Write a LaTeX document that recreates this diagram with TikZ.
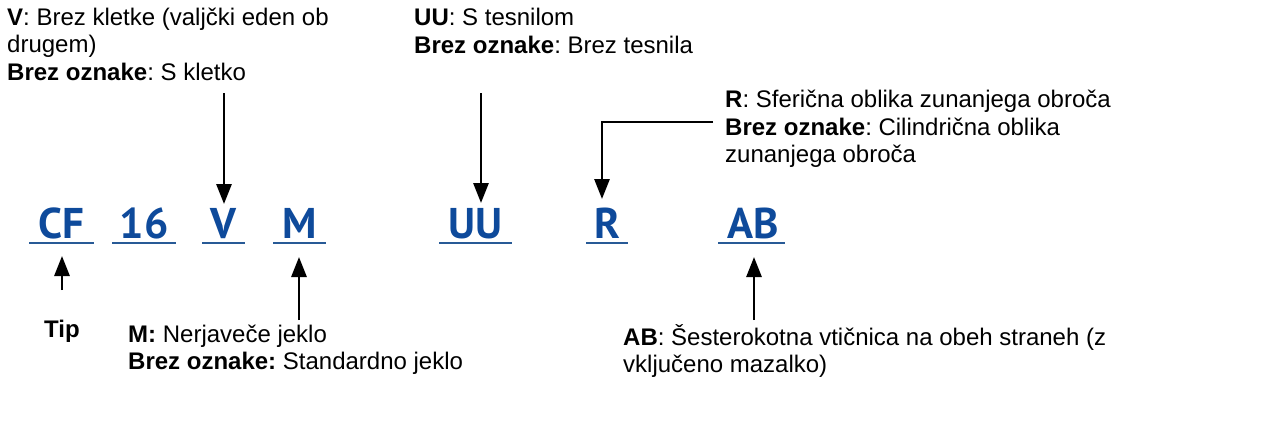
\documentclass[tikz,border=0pt]{standalone}
\usepackage{fontspec}
\setmainfont{Liberation Sans}
\newfontfamily\codefont{PT Sans}
\usetikzlibrary{arrows.meta}
\definecolor{codeblue}{RGB}{14,74,155}
\definecolor{lineblue}{RGB}{40,90,150}
\frenchspacing
\begin{document}
\begin{tikzpicture}[x=1pt,y=-1pt,
  txt/.style={anchor=base west,inner sep=0pt,font=\fontsize{24}{28}\selectfont},
  code/.style={anchor=base,inner sep=0pt,text=codeblue,font=\codefont\bfseries\fontsize{43}{50}\selectfont},
  uline/.style={draw=lineblue,line width=2.2pt},
  arr/.style={line width=2.8pt,-{Triangle[width=15pt,length=20pt]}}]
\useasboundingbox (0,0) rectangle (1268,431);
% code letters
\node[code] (cf) at (61,238) {CF};
\node[code] (n16) at (144,238) {16};
\node[code] (v) at (223.5,238) {V};
\node[code] (m) at (299.5,238) {M};
\node[code] (uu) at (475.5,238) {UU};
\node[code] (r) at (607,238) {R};
\node[code] (ab) at (753,238) {AB};
% underlines
\draw[uline] (29,243) -- (94,243);
\draw[uline] (112,243) -- (176,243);
\draw[uline] (202,243) -- (245,243);
\draw[uline] (273,243) -- (326,243);
\draw[uline] (439,243) -- (512,243);
\draw[uline] (586,243) -- (628,243);
\draw[uline] (718,243) -- (785,243);
% labels
\node[txt] (v1) at (7,25) {\textbf{V}: Brez kletke (valjčki eden ob};
\node[txt] (v2) at (7,52) {drugem)};
\node[txt] (v3) at (7,80) {\textbf{Brez oznake}: S kletko};
\node[txt] (u1) at (414,25) {\textbf{UU}: S tesnilom};
\node[txt] (u2) at (414,53) {\textbf{Brez oznake}: Brez tesnila};
\node[txt] (r1) at (725,107) {\textbf{R}: Sferična oblika zunanjega obroča};
\node[txt] (r2) at (725,135) {\textbf{Brez oznake}: Cilindrična oblika};
\node[txt] (r3) at (725,162) {zunanjega obroča};
\node[txt] (tip) at (44,337) {\textbf{Tip}};
\node[txt] (m1) at (128,342) {\textbf{M:} Nerjaveče jeklo};
\node[txt] (m2) at (128,369) {\textbf{Brez oznake:} Standardno jeklo};
\node[txt] (a1) at (623,345) {\textbf{AB}: Šesterokotna vtičnica na obeh straneh (z};
\node[txt] (a2) at (623,372) {vključeno mazalko)};
% arrow ends
\coordinate (vs) at (224,93);   \coordinate (vt) at (224,204);
\coordinate (us) at (481,93);   \coordinate (ut) at (481,203);
\coordinate (rs) at (713,122);  \coordinate (rt) at (602,199);
\coordinate (cs) at (62,290);   \coordinate (ct) at (62,256);
\coordinate (ms) at (299,320);  \coordinate (mt) at (299,257);
\coordinate (as) at (754,320);  \coordinate (at) at (754,257);
\draw[arr] (vs) -- (vt);
\draw[arr] (us) -- (ut);
\draw[arr] (rs) -| (rt);
\draw[arr] (cs) -- (ct);
\draw[arr] (ms) -- (mt);
\draw[arr] (as) -- (at);
\end{tikzpicture}
\end{document}
